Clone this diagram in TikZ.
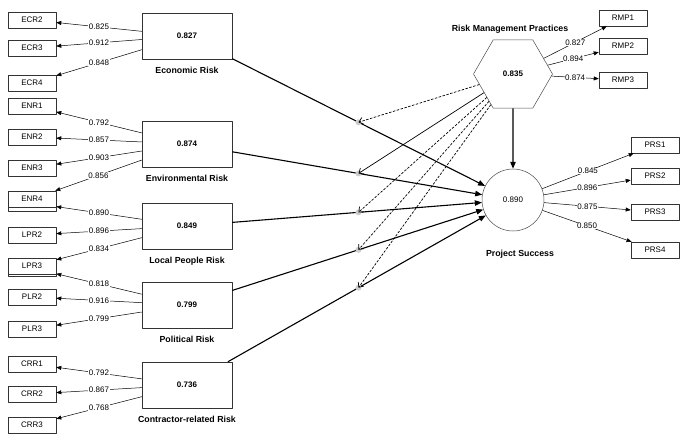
\documentclass[tikz,border=0pt]{standalone}
\usepackage{fontspec}
\setmainfont{Liberation Sans}
\usetikzlibrary{arrows.meta,positioning,shapes.geometric,calc}

\begin{document}
\begin{tikzpicture}[x=1pt, y=-1pt, line join=round, font=\fontsize{8}{9}\selectfont,
  ind/.style={draw=black!80, fill=white, line width=0.5pt, minimum width=48pt, minimum height=16pt, inner sep=0pt},
  lv/.style={draw=black!80, fill=white, line width=0.5pt, minimum width=90pt, minimum height=46pt, inner sep=0pt, font=\bfseries\fontsize{8}{9}\selectfont},
  lvlab/.style={inner sep=1pt, font=\bfseries\fontsize{8.8}{10}\selectfont},
  load/.style={line width=0.5pt, -{Triangle[length=5pt,width=4pt]}},
  ld/.style={fill=white, inner sep=0.6pt, font=\fontsize{8}{9}\selectfont},
  strpath/.style={line width=1.1pt, -{Triangle[length=7pt,width=5.5pt]}},
  moder/.style={line width=0.7pt, dash pattern=on 2.5pt off 1.5pt, -{Straight Barb[length=4pt,width=7pt]}},
  modsolid/.style={line width=0.7pt, -{Straight Barb[length=4pt,width=7pt]}}]
\useasboundingbox (0,0) rectangle (681,439);

\node[ind] (lpr1) at (32,203) {};
\node[ind] (plr1) at (32,268) {};
\node[ind] (ecr2) at (32,20) {ECR2};
\node[ind] (ecr3) at (32,48) {ECR3};
\node[ind] (ecr4) at (32,83) {ECR4};
\node[ind] (enr1) at (32,106) {ENR1};
\node[ind] (enr2) at (32,137) {ENR2};
\node[ind] (enr3) at (32,168) {ENR3};
\node[ind] (enr4) at (32,199) {ENR4};
\node[ind] (lpr2) at (32,235) {LPR2};
\node[ind] (lpr3) at (32,266) {LPR3};
\node[ind] (plr2) at (32,297) {PLR2};
\node[ind] (plr3) at (32,329) {PLR3};
\node[ind] (crr1) at (32,364) {CRR1};
\node[ind] (crr2) at (32,394) {CRR2};
\node[ind] (crr3) at (32,425) {CRR3};

\node[lv] (eco) at (187,36) {0.827};
\node[lv] (env) at (187,144) {0.874};
\node[lv] (lpr) at (187,226) {0.849};
\node[lv] (plr) at (187,305) {0.799};
\node[lv] (crr) at (187,385) {0.736};
\node[lvlab, below=7pt of eco] (ecolab) {Economic Risk};
\node[lvlab, below=7pt of env] (envlab) {Environmental Risk};
\node[lvlab, below=7pt of lpr] (lprlab) {Local People Risk};
\node[lvlab, below=7pt of plr] (plrlab) {Political Risk};
\node[lvlab, below=7pt of crr] (crrlab) {Contractor-related Risk};

\node[draw=black!70, line width=0.5pt, regular polygon, regular polygon sides=6, minimum size=79pt, inner sep=0pt, font=\bfseries\fontsize{8}{9}\selectfont] (rmp) at (513,74) {0.835};
\node[lvlab] (rmplab) at (510,29) {Risk Management Practices};
\node[draw=black!70, line width=0.5pt, circle, minimum size=62pt, inner sep=0pt] (ps) at (513,200) {0.890};
\node[lvlab] (pslab) at (520,254) {Project Success};

\node[ind] (rmp1) at (623,18) {RMP1};
\node[ind] (rmp2) at (623,46) {RMP2};
\node[ind] (rmp3) at (623,80) {RMP3};
\node[ind] (prs1) at (655,145) {PRS1};
\node[ind] (prs2) at (655,176) {PRS2};
\node[ind] (prs3) at (655,212) {PRS3};
\node[ind] (prs4) at (655,250) {PRS4};

\draw[load] (eco) -- node[ld]{0.825} (ecr2);
\draw[load] (eco) -- node[ld]{0.912} (ecr3);
\draw[load] (eco) -- node[ld]{0.848} (ecr4);
\draw[load] (env) -- node[ld]{0.792} (enr1);
\draw[load] (env) -- node[ld]{0.857} (enr2);
\draw[load] (env) -- node[ld]{0.903} (enr3);
\draw[load] (env) -- node[ld]{0.856} (enr4);
\draw[load] (lpr) -- node[ld]{0.890} (lpr1);
\draw[load] (lpr) -- node[ld]{0.896} (lpr2);
\draw[load] (lpr) -- node[ld]{0.834} (lpr3);
\draw[load] (plr) -- node[ld]{0.818} (plr1);
\draw[load] (plr) -- node[ld]{0.916} (plr2);
\draw[load] (plr) -- node[ld]{0.799} (plr3);
\draw[load] (crr) -- node[ld]{0.792} (crr1);
\draw[load] (crr) -- node[ld]{0.867} (crr2);
\draw[load] (crr) -- node[ld]{0.768} (crr3);
\draw[load] (rmp) -- node[ld]{0.827} (rmp1);
\draw[load] (rmp) -- node[ld]{0.894} (rmp2);
\draw[load] (rmp) -- node[ld]{0.874} (rmp3);
\draw[load] (ps) -- node[ld]{0.845} (prs1);
\draw[load] (ps) -- node[ld]{0.896} (prs2);
\draw[load] (ps) -- node[ld]{0.875} (prs3);
\draw[load] (ps) -- node[ld]{0.850} (prs4);

\foreach \lv in {eco,env,lpr,plr,crr} \draw[strpath] (\lv) -- (ps);
\draw[strpath] (rmp) -- (ps);

\coordinate (m1) at ($(eco)!0.526!(ps)$);
\coordinate (m2) at ($(env)!0.526!(ps)$);
\coordinate (m3) at ($(lpr)!0.526!(ps)$);
\coordinate (m4) at ($(plr)!0.526!(ps)$);
\coordinate (m5) at ($(crr)!0.526!(ps)$);
\fill[gray!40] (m1) circle (3pt) (m2) circle (3pt) (m3) circle (3pt) (m4) circle (3pt) (m5) circle (3pt);
\draw[moder] (rmp) -- (m1);
\draw[modsolid] (rmp) -- (m2);
\draw[moder] (rmp) -- (m3);
\draw[moder] (rmp) -- (m4);
\draw[moder] (rmp) -- (m5);
\end{tikzpicture}
\end{document}
